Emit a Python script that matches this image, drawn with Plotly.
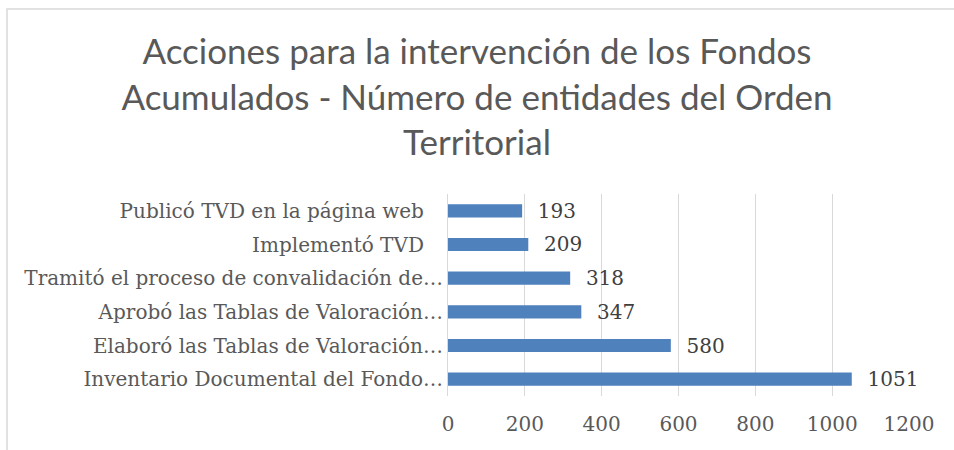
import plotly.graph_objects as go

categories = [
    "Publicó TVD en la página web\u00a0\u00a0\u00a0",
    "Implementó TVD\u00a0\u00a0\u00a0",
    "Tramitó el proceso de convalidación de…",
    "Aprobó las Tablas de Valoración…",
    "Elaboró las Tablas de Valoración…",
    "Inventario Documental del Fondo…",
]
values = [193, 209, 318, 347, 580, 1051]
x_ticks = [0, 200, 400, 600, 800, 1000, 1200]

title_text = ("Acciones para la intervención de los Fondos<br>"
              "Acumulados - Número de entidades del Orden<br>Territorial")

W, H = 954, 450
L, R, T, B = 448, 45, 194, 54
pw, ph = W - L - R, H - T - B

fig = go.Figure(go.Bar(
    x=values, y=categories, orientation="h",
    marker=dict(color="#4F81BD", line=dict(width=0)),
    text=["\u00a0\u00a0" + str(v) for v in values], textposition="outside",
    constraintext="none",
    textfont=dict(family="DejaVu Serif", size=20, color="#404040"),
    cliponaxis=False,
    hoverinfo="skip",
))

fig.update_layout(
    width=W, height=H,
    margin=dict(l=L, r=R, t=T, b=B, autoexpand=False),
    paper_bgcolor="white", plot_bgcolor="white",
    bargap=0.61,
    showlegend=False,
    title=dict(text=title_text, x=0.5, xanchor="center", y=1 - 64 / H, yanchor="middle",
               font=dict(family="Lato", size=35, color="#595959")),
    xaxis=dict(range=[0, 1200], tickvals=x_ticks, showgrid=True,
               gridcolor="#D9D9D9", gridwidth=1, zeroline=False,
               showline=False, ticks="", automargin=False, ticklabelstandoff=14,
               tickfont=dict(family="DejaVu Serif", size=20, color="#595959")),
    yaxis=dict(autorange="reversed", showline=True, linecolor="#D9D9D9",
               ticks="", ticklabelstandoff=0, automargin=False,
               tickfont=dict(family="DejaVu Serif", size=20, color="#595959")),
)

fig.add_shape(type="rect", xref="paper", yref="paper",
              x0=(7 - L) / pw, x1=(W + 10 - L) / pw,
              y0=-1, y1=(T + ph - 9) / ph,
              line=dict(color="#D9D9D9", width=1.5), fillcolor="rgba(0,0,0,0)",
              layer="below")

fig.write_html("out.html", config={"displayModeBar": False},
               post_script="document.body.style.margin='0';")
